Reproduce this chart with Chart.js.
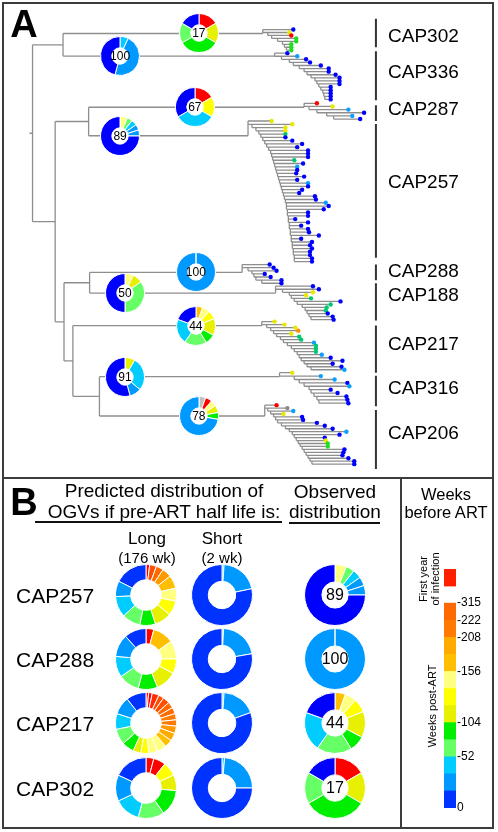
<!DOCTYPE html>
<html>
<head>
<meta charset="utf-8">
<title>OGV distributions</title>
<script src="https://cdn.jsdelivr.net/npm/chart.js@4.4.1/dist/chart.umd.min.js"></script>
<style>
  html, body { margin: 0; background: #fff; }
  body { font-family: "Liberation Sans", Arial, sans-serif; color: #000; }
  #fig { position: relative; width: 498px; height: 832px; overflow: hidden; }
  #fig canvas { position: absolute; }
  .box { position: absolute; border: 2px solid #3c3c3c; box-sizing: border-box; }
  .txt { position: absolute; white-space: nowrap; line-height: 1; transform: translate(-50%, -50%); }
  .lft { position: absolute; white-space: nowrap; line-height: 1; transform: translateY(-50%); }
  .rot { transform: translate(-50%, -50%) rotate(-90deg); }
  .rule { position: absolute; height: 2px; background: #111; }
</style>
</head>
<body>
<div id="fig">
  <canvas id="tree" width="498" height="478" style="left:0;top:0"></canvas>
  <canvas id="weeks" width="50" height="257" style="left:444px;top:560px"></canvas>

  <div class="box" style="left:2px;top:2px;width:492px;height:477px"></div>
  <div class="box" style="left:2px;top:477px;width:492px;height:352px"></div>
  <div class="box" style="left:400px;top:477px;width:2px;height:352px;border-width:0 0 0 2px"></div>

  <div class="txt" style="left:24px;top:24px;font-size:38px;font-weight:bold">A</div>
  <div class="txt" style="left:24px;top:502px;font-size:38px;font-weight:bold">B</div>

  <div class="txt" style="left:164px;top:490px;font-size:19px">Predicted distribution of</div>
  <div class="txt" style="left:164px;top:511px;font-size:19px">OGVs if pre-ART half life is:</div>
  <div class="rule" style="left:35px;top:521px;width:247px"></div>
  <div class="txt" style="left:335px;top:491px;font-size:19px">Observed</div>
  <div class="txt" style="left:335px;top:511px;font-size:19px">distribution</div>
  <div class="rule" style="left:289px;top:522px;width:91px"></div>

  <div class="txt" style="left:147px;top:538px;font-size:17px">Long</div>
  <div class="txt" style="left:147px;top:557px;font-size:15px">(176 wk)</div>
  <div class="txt" style="left:222px;top:538px;font-size:17px">Short</div>
  <div class="txt" style="left:222px;top:557px;font-size:15px">(2 wk)</div>

  <div class="txt" style="left:446px;top:494px;font-size:16.5px">Weeks</div>
  <div class="txt" style="left:446px;top:512px;font-size:16.5px">before ART</div>
  <div class="txt rot" style="left:423px;top:579px;font-size:11px">First year</div>
  <div class="txt rot" style="left:435px;top:579px;font-size:11px">of infection</div>
  <div class="txt rot" style="left:432px;top:706px;font-size:11px">Weeks post-ART</div>
</div>

<script>
// colour bins (weeks before ART) and tip dot colours
const pal = {
  red: '#ff0000', red2: '#ff2a00', or: '#ff4d00', o1: '#ff6a00', o1b: '#ff7a00', o2: '#ff9900',
  oa: '#ffaa00', oy: '#ffbf00', ly: '#ffff80', y: '#ffff00', yg: '#e6f000', g: '#00ee00',
  lg: '#66ff66', c: '#00ccff', mb: '#0099ff', db: '#0033ff', bl: '#0000ff', gr: '#c0c0c0',
};
const tipPal = { b: '#0000ff', lb: '#0aa0ff', y: '#e8e800', r: '#ff0000', g: '#22dd22', gt: '#00c870', o: '#ff8c00', gr: '#888888' };

// tree: internal node depths and topology (numbers are clade indices)
const cladeNames = ['CAP302', 'CAP336', 'CAP287', 'CAP257', 'CAP288', 'CAP188', 'CAP217', 'CAP316', 'CAP206'];
const treeNodeX = { root: 29, a: 60, b: 52, c: 86, d: 61, e: 87, f: 70, g: 97 };
const treeKids = { root: ['a', 'b'], a: [0, 1], b: ['c', 'd'], c: [2, 3], d: ['e', 'f'], e: [4, 5], f: [6, 'g'], g: [7, 8] };
const rootStub = 3;
const cladeStemY = [30, 53, 105, 134, 273, 294, 327, 379, 419];
const cladeTipRange = [[26, 47], [50, 97], [101, 117], [119, 262], [265, 284], [287, 321], [323, 372], [375, 406], [408, 468]];
const cladeBarRange = [[15, 44], [48, 98], [103, 119], [122, 258], [265, 281], [284, 322], [327, 375], [378, 409], [413, 473]];
const cladeLabelY = [32, 68, 106, 180, 271, 295, 345, 390, 435];
const donutX = [198, 118, 194, 118, 195, 123, 195, 123, 198];
const donutLabel = ['17', '100', '67', '89', '100', '50', '44', '91', '78'];

// tips per clade: [branch node depth, tip depth, colour]
const cap302Tips = [[263, 294, 'b'], [268, 290, 'y'], [272, 292, 'r'], [278, 297, 'g'], [283, 297, 'g'], [285, 292, 'g'], [287, 292, 'g'], [287, 292, 'g']];
const cap336Tips = [[275, 288, 'b'], [282, 298, 'lb'], [290, 307, 'b'], [294, 311, 'b'], [300, 322, 'b'], [305, 330, 'b'], [308, 330, 'b'], [312, 337, 'b'],
  [316, 341, 'b'], [318, 341, 'b'], [320, 341, 'b'], [322, 332, 'b'], [324, 332, 'b'], [325, 332, 'b'], [326, 332, 'b'], [326, 332, 'b']];
const cap287Tips = [[305, 318, 'r'], [310, 334, 'y'], [318, 350, 'lb'], [328, 366, 'b'], [335, 354, 'lb'], [335, 362, 'b']];
const cap257Tips = [[248, 272, 'y'], [252, 293, 'y'], [256, 286, 'y'], [259, 286, 'y'], [261, 286, 'gt'], [263, 286, 'b'], [265, 293, 'b'], [267, 303, 'b'],
  [269, 298, 'b'], [271, 309, 'b'], [272, 309, 'b'], [273, 309, 'b'], [274, 295, 'gt'], [275, 304, 'b'], [276, 298, 'lb'], [277, 298, 'b'],
  [278, 297, 'b'], [279, 305, 'b'], [280, 298, 'b'], [281, 309, 'lb'], [282, 309, 'b'], [283, 303, 'b'], [284, 300, 'b'], [285, 316, 'b'],
  [286, 317, 'b'], [287, 327, 'lb'], [287, 330, 'b'], [288, 325, 'b'], [288, 309, 'b'], [289, 309, 'b'], [289, 296, 'b'], [290, 309, 'b'],
  [290, 302, 'b'], [291, 309, 'b'], [291, 310, 'b'], [292, 320, 'b'], [292, 302, 'b'], [293, 313, 'b'], [293, 311, 'b'], [294, 313, 'b'],
  [294, 311, 'b'], [295, 311, 'b'], [295, 313, 'b'], [295, 313, 'b']];
const cap288Tips = [[242, 270, 'b'], [248, 274, 'b'], [252, 277, 'b'], [254, 265, 'b'], [256, 271, 'b'], [262, 282, 'b'], [262, 282, 'b']];
const cap188Tips = [[276, 314, 'b'], [283, 320, 'b'], [290, 314, 'y'], [292, 307, 'y'], [295, 312, 'gt'], [298, 342, 'b'], [303, 332, 'gt'],
  [306, 328, 'gt'], [308, 327, 'gt'], [310, 329, 'b'], [312, 334, 'b'], [312, 335, 'b']];
const cap217Tips = [[262, 275, 'y'], [267, 285, 'y'], [271, 296, 'y'], [274, 299, 'o'], [277, 292, 'y'], [281, 300, 'gt'], [284, 302, 'gt'],
  [288, 315, 'lb'], [292, 317, 'gt'], [295, 317, 'gt'], [298, 317, 'gt'], [300, 323, 'lb'], [302, 332, 'b'], [305, 344, 'b'], [308, 334, 'b'],
  [312, 343, 'b'], [312, 346, 'lb']];
const cap316Tips = [[280, 293, 'y'], [295, 322, 'lb'], [300, 336, 'lb'], [305, 349, 'b'], [310, 351, 'lb'], [312, 332, 'b'], [315, 339, 'b'],
  [318, 348, 'b'], [320, 349, 'b'], [320, 350, 'b']];
const cap206Tips = [[265, 277, 'r'], [268, 288, 'gr'], [271, 294, 'lb'], [274, 284, 'y'], [276, 303, 'b'], [278, 304, 'b'], [282, 318, 'b'],
  [286, 326, 'b'], [290, 334, 'b'], [293, 348, 'lb'], [295, 341, 'b'], [297, 326, 'b'], [299, 327, 'y'], [301, 329, 'g'], [303, 329, 'g'],
  [305, 346, 'b'], [307, 345, 'b'], [309, 344, 'b'], [311, 350, 'b'], [313, 356, 'b'], [313, 356, 'b']];
const cladeTips = [cap302Tips, cap336Tips, cap287Tips, cap257Tips, cap288Tips, cap188Tips, cap217Tips, cap316Tips, cap206Tips];

// observed OGV distributions: [bin, share in degrees]
const obs302 = [['red', 60], ['yg', 60], ['g', 120], ['lg', 60], ['bl', 60]];
const obs336 = [['c', 25], ['mb', 170], ['bl', 165]];
const obs287 = [['red', 60], ['y', 60], ['c', 120], ['bl', 120]];
const obs257 = [['ly', 22], ['lg', 16], ['c', 17], ['mb', 17], ['mb', 18], ['bl', 270]];
const obs288 = [['mb', 360]];
const obs188 = [['ly', 25], ['yg', 30], ['lg', 125], ['bl', 180]];
const obs217 = [['oy', 20], ['ly', 22], ['y', 26], ['yg', 50], ['g', 30], ['lg', 67], ['c', 75], ['bl', 70]];
const obs316 = [['yg', 30], ['c', 100], ['mb', 35], ['bl', 195]];
const obs206 = [['gr', 20], ['red', 20], ['ly', 18], ['yg', 22], ['g', 20], ['mb', 260]];
const treeDonuts = [obs302, obs336, obs287, obs257, obs288, obs188, obs217, obs316, obs206];

// predicted distributions (panel B)
const long257 = [['red', 7], ['or', 13], ['o1', 14], ['o2', 18], ['oy', 25], ['ly', 25], ['y', 28], ['yg', 32], ['g', 30], ['lg', 35], ['c', 40], ['mb', 30], ['db', 63]];
const long288 = [['red', 15], ['oy', 40], ['ly', 35], ['y', 28], ['yg', 40], ['g', 37], ['lg', 40], ['c', 40], ['mb', 43], ['db', 42]];
const long217 = [['red', 5], ['red', 7], ['red2', 13], ['or', 10], ['or', 13], ['o1', 12], ['o1', 12], ['o1b', 12], ['o1b', 12], ['o2', 14], ['oa', 15],
  ['oy', 15], ['ly', 18], ['ly', 17], ['y', 15], ['yg', 15], ['g', 23], ['lg', 30], ['c', 30], ['mb', 34], ['db', 38]];
const long302 = [['red', 15], ['red', 23], ['y', 27], ['yg', 30], ['g', 50], ['lg', 50], ['c', 50], ['mb', 50], ['db', 65]];
const short257 = [['c', 4], ['mb', 74], ['db', 282]];
const short288 = [['c', 3], ['mb', 77], ['db', 280]];
const short217 = [['c', 4], ['mb', 66], ['db', 290]];
const short302 = [['c', 5], ['mb', 85], ['db', 270]];

const rowNames = ['CAP257', 'CAP288', 'CAP217', 'CAP302'];
const rowLong = [long257, long288, long217, long302];
const rowShort = [short257, short288, short217, short302];
const rowObs = [obs257, obs288, obs217, obs302];
const rowObsLabel = ['89', '100', '44', '17'];

// colour scale
const scaleBins = ['db', 'mb', 'c', 'lg', 'g', 'yg', 'y', 'ly', 'oy', 'oa', 'o1b', 'o1'];
const scaleTickAt = [0, 3, 5, 8, 10, 11, 12];
const scaleTickText = ['0', '-52', '-104', '-156', '-208', '-222', '-315'];

Chart.defaults.font.family = '"Liberation Sans", Arial, sans-serif';
const fig = document.getElementById('fig');

// --- tree segments ---
const treeLines = [];
const barLines = [];
const tipDots = [];
const tipColors = [];
function seg(list, x1, y1, x2, y2) {
  list.push({ x: x1, y: y1 }, { x: x2, y: y2 }, { x: NaN, y: NaN });
}
function nodeY(k) {
  return typeof k === 'number' ? cladeStemY[k] : (nodeY(treeKids[k][0]) + nodeY(treeKids[k][1])) / 2;
}
function nodeX(k) {
  return typeof k === 'number' ? cladeTips[k][0][0] : treeNodeX[k];
}
Object.keys(treeKids).forEach((k) => {
  const x = treeNodeX[k];
  const kids = treeKids[k];
  seg(treeLines, x, nodeY(kids[0]), x, nodeY(kids[1]));
  kids.forEach((c) => seg(treeLines, x, nodeY(c), nodeX(c), nodeY(c)));
});
seg(treeLines, treeNodeX.root - rootStub, nodeY('root'), treeNodeX.root, nodeY('root'));

cladeTips.forEach((tips, k) => {
  const [y0, y1] = cladeTipRange[k];
  const n = tips.length;
  const ys = tips.map((_, i) => y0 + (y1 - y0) * i / (n - 1));
  const stem = cladeStemY[k];
  seg(treeLines, tips[0][0], Math.min(ys[0], stem), tips[0][0], Math.max(ys[1], stem));
  tips.forEach((tip, i) => {
    const start = i === 0 ? tip[0] : tips[i - 1][0];
    seg(treeLines, start, ys[i], tip[1], ys[i]);
    if (i > 0 && i < n - 1) seg(treeLines, tip[0], ys[i], tip[0], ys[i + 1]);
    tipDots.push({ x: tip[1], y: ys[i] });
    tipColors.push(tipPal[tip[2]]);
  });
  seg(barLines, 378, cladeBarRange[k][0], 378, cladeBarRange[k][1]);
});

const treeChart = new Chart(document.getElementById('tree'), {
  type: 'scatter',
  data: {
    datasets: [
      { data: treeLines, showLine: true, borderColor: '#8e8e8e', borderWidth: 1.3, pointRadius: 0, spanGaps: false, order: 3 },
      { data: barLines, showLine: true, borderColor: '#333', borderWidth: 2, pointRadius: 0, spanGaps: false, order: 2 },
      { data: tipDots, pointRadius: 2.2, pointBackgroundColor: tipColors, pointBorderWidth: 0, order: 1 },
    ],
  },
  options: {
    responsive: false,
    animation: false,
    events: [],
    layout: { padding: 0 },
    plugins: { legend: { display: false }, tooltip: { enabled: false } },
    scales: {
      x: { type: 'linear', min: 0, max: 498, display: false },
      y: { type: 'linear', min: 0, max: 478, reverse: true, display: false },
    },
  },
});

function addText(text, x, y, size, cls) {
  const d = document.createElement('div');
  d.className = cls || 'txt';
  d.style.left = x + 'px';
  d.style.top = y + 'px';
  d.style.fontSize = size + 'px';
  d.textContent = text;
  fig.appendChild(d);
}

const holeFill = {
  id: 'holeFill',
  beforeDatasetsDraw(chart) {
    const arc = chart.getDatasetMeta(0).data[0];
    if (!arc) return;
    const ctx = chart.ctx;
    ctx.save();
    ctx.fillStyle = '#fff';
    ctx.beginPath();
    ctx.arc(arc.x, arc.y, arc.outerRadius, 0, Math.PI * 2);
    ctx.fill();
    ctx.restore();
  },
};

function makeDonut(parts, cx, cy, r, cutout, label, fontSize) {
  const size = Math.round(r * 2 + 1);
  const cv = document.createElement('canvas');
  cv.width = size;
  cv.height = size;
  cv.style.left = (cx - size / 2) + 'px';
  cv.style.top = (cy - size / 2) + 'px';
  fig.appendChild(cv);
  new Chart(cv, {
    type: 'doughnut',
    data: {
      labels: parts.map((p) => p[0]),
      datasets: [{
        data: parts.map((p) => p[1]),
        backgroundColor: parts.map((p) => pal[p[0]]),
        borderColor: '#fff',
        borderWidth: 1,
      }],
    },
    options: {
      responsive: false,
      animation: false,
      events: [],
      cutout: cutout,
      plugins: { legend: { display: false }, tooltip: { enabled: false } },
    },
    plugins: [holeFill],
  });
  if (label) addText(label, cx, cy, fontSize);
}

// donuts on the tree branches
treeDonuts.forEach((parts, k) => {
  const cx = treeChart.scales.x.getPixelForValue(donutX[k]);
  const cy = treeChart.scales.y.getPixelForValue(cladeStemY[k]);
  makeDonut(parts, cx, cy, 19.5, '42%', donutLabel[k], 12);
});
cladeNames.forEach((name, k) => {
  addText(name, 388, treeChart.scales.y.getPixelForValue(cladeLabelY[k]), 19, 'lft');
});

// panel B grid
const rowY = [595, 659, 723, 788];
rowNames.forEach((name, i) => {
  addText(name, 16, rowY[i], 21, 'lft');
  makeDonut(rowLong[i], 146, rowY[i], 30.5, '50%');
  makeDonut(rowShort[i], 222, rowY[i], 30.5, '45%');
  makeDonut(rowObs[i], 335, rowY[i], 30.5, '43%', rowObsLabel[i], 16);
});

// colour scale
new Chart(document.getElementById('weeks'), {
  type: 'bar',
  data: {
    labels: [''],
    datasets: scaleBins.map((k, i) => ({ data: [[i, i + 1]], backgroundColor: pal[k] }))
      .concat([{ data: [[13, 14]], backgroundColor: '#ff2000' }]),
  },
  options: {
    responsive: false,
    animation: false,
    events: [],
    layout: { padding: { top: 9, bottom: 9, left: 0, right: 0 } },
    datasets: { bar: { grouped: false, barPercentage: 1, categoryPercentage: 1, borderWidth: 0 } },
    plugins: { legend: { display: false }, tooltip: { enabled: false } },
    scales: {
      x: { display: false },
      y: {
        position: 'right',
        min: 0,
        max: 14,
        grid: { display: false, drawTicks: false },
        border: { display: false },
        afterBuildTicks: (s) => { s.ticks = scaleTickAt.map((v) => ({ value: v })); },
        afterFit: (s) => { s.width = 38; },
        ticks: {
          autoSkip: false,
          padding: 1,
          color: '#000',
          font: { size: 12 },
          callback: (v) => scaleTickText[scaleTickAt.indexOf(v)],
        },
      },
    },
  },
});
</script>
</body>
</html>
